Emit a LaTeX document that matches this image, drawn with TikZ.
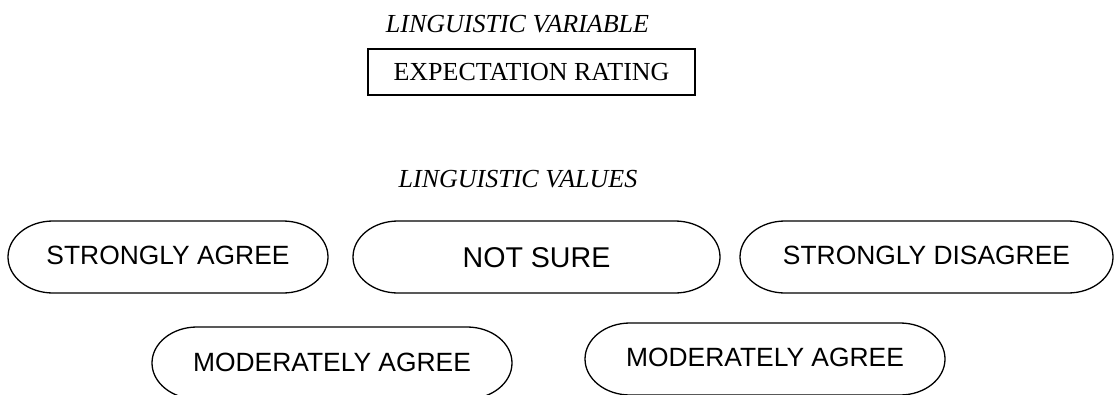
\documentclass[tikz,border=0pt]{standalone}
\usepackage{fontspec}
\setmainfont{Liberation Serif}
\newfontfamily\arialf{Liberation Sans}
\tikzset{
  pillline/.style={draw=black, line width=1.3pt},
  pilltext/.style={anchor=base, inner sep=0pt, font=\arialf\fontsize{26.4}{30}\selectfont},
  labeltext/.style={anchor=base, inner sep=0pt, font=\itshape\fontsize{26}{30}\selectfont},
  varbox/.style={draw=black, line width=1.3pt, inner sep=0pt, minimum width=327pt, minimum height=46pt,
    text height=17pt, text depth=0pt, font=\fontsize{26}{30}\selectfont}
}
% #1 name, #2 cx, #3 cy(image), #4 half width, #5 half height, #6 end radius, #7 baseline(image), #8 text
\newcommand\pillnode[8]{%
  \draw[pillline] (#2-#4+#6,-#3+#5) -- (#2+#4-#6,-#3+#5)
    arc[start angle=90,end angle=-90,x radius=#6pt,y radius=#5pt]
    -- (#2-#4+#6,-#3-#5)
    arc[start angle=270,end angle=90,x radius=#6pt,y radius=#5pt] -- cycle;
  \node[pilltext] (#1) at (#2,-#7) {#8};
}
\begin{document}
\begin{tikzpicture}[x=1pt,y=1pt]
\useasboundingbox (0,0) rectangle (1115,-394);
\node[labeltext] (varlabel) at (517.5,-32) {LINGUISTIC VARIABLE};
\node[varbox] (var) at (531.5,-72) {EXPECTATION RATING};
\node[labeltext] (vallabel) at (518,-187) {LINGUISTIC VALUES};
\pillnode{sa}{168}{257}{160}{36}{45}{264}{STRONGLY AGREE}
\pillnode{ns}{536.5}{257}{183.5}{36}{45}{267}{\fontsize{28.6}{32}\selectfont NOT SURE}
\pillnode{sd}{926.5}{257}{186.5}{36}{45}{264}{STRONGLY DISAGREE}
\pillnode{ma}{332}{363}{180}{36}{45}{371}{MODERATELY AGREE}
\pillnode{mb}{765}{359}{180}{36}{45}{366}{MODERATELY AGREE}
\end{tikzpicture}
\end{document}
